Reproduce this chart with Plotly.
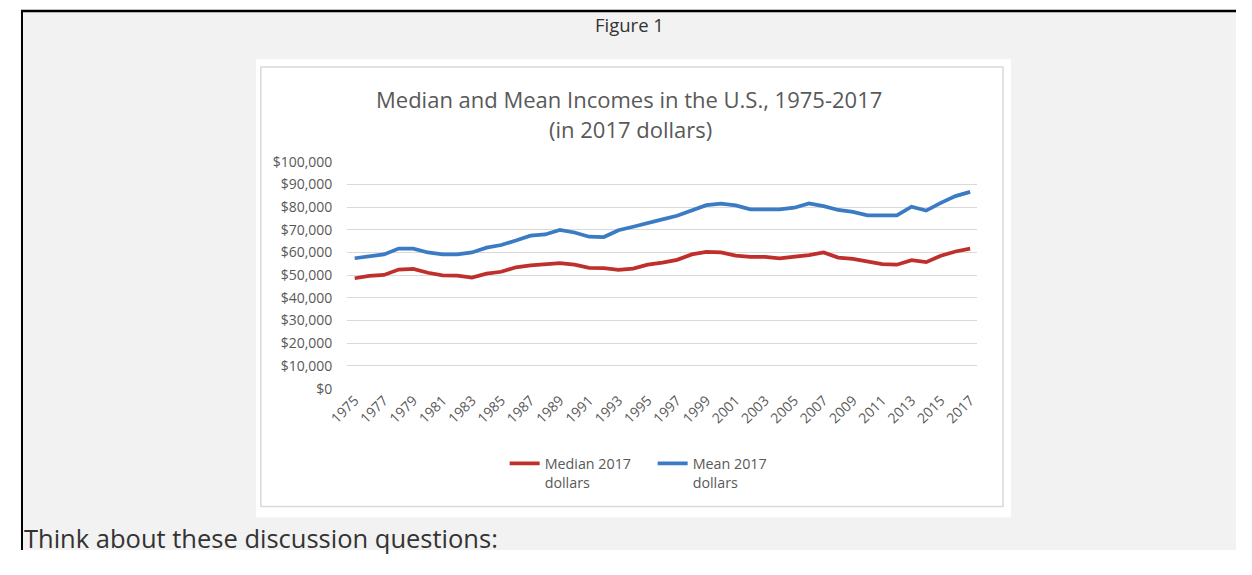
import plotly.graph_objects as go

# Median and mean household income, 1975-2017, in 2017 dollars
years = [str(y) for y in range(1975, 2018)]
median_income = [
    48640, 49650, 50080, 52480, 52770, 51060, 49930, 49790, 48940, 50640,
    51500, 53480, 54330, 54890, 55320, 54610, 53190, 53050, 52340, 52910,
    54610, 55500, 56740, 59150, 60280, 60000, 58580, 58010, 58010, 57450,
    58150, 58870, 60000, 57730, 57160, 56030, 54890, 54610, 56600, 55740,
    58580, 60430, 61700,
]
mean_income = [
    57450, 58440, 59150, 61700, 61700, 60000, 59150, 59150, 60000, 62130,
    63300, 65250, 67380, 67950, 69930, 68790, 66950, 66810, 69790, 71350,
    72770, 74600, 76170, 78300, 80850, 81560, 80710, 79010, 79010, 79010,
    79720, 81560, 80430, 78720, 77870, 76310, 76310, 76310, 80140, 78440,
    81840, 84820, 86670,
]
year_ticks = years[::2]

# The page body keeps its default 8px margin, so the figure is sized to
# leave room for it; layout positions below are given in page pixels.
PAGE_W, PAGE_H, BODY_MARGIN = 1252, 575, 8
W, H = PAGE_W - 2 * BODY_MARGIN, PAGE_H - 2 * BODY_MARGIN
FONT = "Open Sans"
GREY_TEXT = "#595959"


def px(x):
    return (x - BODY_MARGIN) / W


def py(y):
    return 1 - (y - BODY_MARGIN) / H


fig = go.Figure()
fig.add_trace(go.Scatter(
    x=years, y=median_income, mode="lines", name="Median 2017<br>dollars",
    line=dict(color="#bf2f2b", width=3.75),
))
fig.add_trace(go.Scatter(
    x=years, y=mean_income, mode="lines", name="Mean 2017<br>dollars",
    line=dict(color="#3a7bc4", width=3.75),
))

shapes = [
    # page panel background
    dict(type="rect", xref="paper", yref="paper", x0=0, x1=1, y0=0, y1=py(9),
         fillcolor="#f2f2f2", line=dict(width=0), layer="below"),
    # chart card
    dict(type="rect", xref="paper", yref="paper", x0=px(247), x1=px(1015), y0=py(533), y1=py(59),
         fillcolor="#ffffff", line=dict(width=0), layer="below"),
    dict(type="rect", xref="paper", yref="paper", x0=px(252), x1=px(1007), y0=py(522), y1=py(67),
         fillcolor="rgba(0,0,0,0)", line=dict(color="#d9d9d9", width=1.5), layer="below"),
    # black frame
    dict(type="line", xref="paper", yref="paper", x0=0, x1=1, y0=py(9), y1=py(9),
         line=dict(color="#000000", width=2.5)),
    dict(type="line", xref="paper", yref="paper", x0=px(9), x1=px(9), y0=0, y1=py(9),
         line=dict(color="#000000", width=2)),
]

annotations = [
    dict(text="Figure 1", x=px(627), y=py(23), xref="paper", yref="paper", showarrow=False,
         font=dict(family=FONT, size=18.5, color="#333333"), xanchor="center", yanchor="middle"),
    dict(text="Median and Mean Incomes in the U.S., 1975-2017", x=px(627), y=py(100),
         xref="paper", yref="paper", showarrow=False,
         font=dict(family=FONT, size=22, color=GREY_TEXT), xanchor="center", yanchor="middle"),
    dict(text="(in 2017 dollars)", x=px(628), y=py(131), xref="paper", yref="paper",
         showarrow=False, font=dict(family=FONT, size=22, color=GREY_TEXT),
         xanchor="center", yanchor="middle"),
    dict(text="Think about these discussion questions:", x=px(9), y=py(555), xref="paper",
         yref="paper", showarrow=False, font=dict(family=FONT, size=25.5, color="#333333"),
         xanchor="left", yanchor="middle"),
]

fig.update_layout(
    width=W, height=H,
    margin=dict(l=0, r=0, t=0, b=0),
    paper_bgcolor="#ffffff",
    plot_bgcolor="rgba(0,0,0,0)",
    font=dict(family=FONT, color=GREY_TEXT),
    shapes=shapes,
    annotations=annotations,
    showlegend=True,
    legend=dict(
        orientation="h", x=px(500), y=py(461), xanchor="left", yanchor="top",
        valign="top", bgcolor="rgba(0,0,0,0)",
        font=dict(family=FONT, size=14.3, color=GREY_TEXT),
        entrywidth=103, entrywidthmode="pixels",
    ),
    xaxis=dict(
        type="category", range=[-0.5, len(years) - 0.5],
        domain=[px(340), px(981)],
        tickmode="array", tickvals=year_ticks, ticktext=year_ticks,
        tickangle=-45, tickfont=dict(family=FONT, size=14, color=GREY_TEXT),
        showgrid=False, showline=False, zeroline=False, ticks="",
    ),
    yaxis=dict(
        range=[0, 100000], dtick=10000, tickformat="$,.0f",
        domain=[py(400), py(165)],
        gridcolor="#d9d9d9", gridwidth=1, zeroline=False, showline=False,
        ticks="", ticklabelstandoff=14,
        tickfont=dict(family=FONT, size=14, color=GREY_TEXT),
    ),
)

fig.write_html("out.html")
